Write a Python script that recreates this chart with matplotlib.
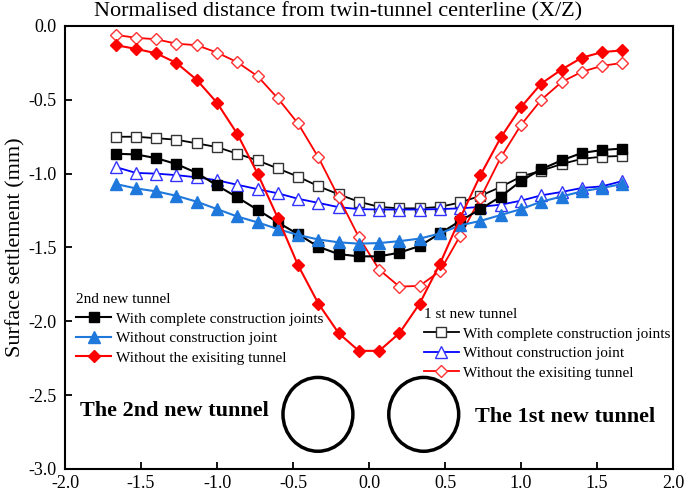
import numpy as np
import matplotlib
matplotlib.use('Agg')
import matplotlib.pyplot as plt
from matplotlib.patches import Ellipse

plt.rcParams['font.family'] = ['Liberation Serif', 'DejaVu Serif']
plt.rcParams['axes.unicode_minus'] = False

# --------------------------------------------------------------------
# normalised distance X/Z
x = [-1.667, -1.533, -1.4, -1.267, -1.133, -1.0, -0.867, -0.733, -0.6, -0.467,
     -0.333, -0.2, -0.067, 0.067, 0.2, 0.333, 0.467, 0.6, 0.733, 0.867,
     1.0, 1.133, 1.267, 1.4, 1.533, 1.667]

# 2nd new tunnel
joints_2nd = [-0.865, -0.87, -0.895, -0.935, -0.995, -1.08, -1.16, -1.245, -1.33, -1.41,
              -1.495, -1.545, -1.56, -1.56, -1.535, -1.49, -1.405, -1.32, -1.24, -1.155,
              -1.05, -0.97, -0.91, -0.86, -0.84, -0.83]
nojoint_2nd = [-1.07, -1.10, -1.12, -1.15, -1.19, -1.24, -1.29, -1.33, -1.375, -1.415,
               -1.446, -1.465, -1.474, -1.47, -1.457, -1.44, -1.405, -1.35, -1.32, -1.28,
               -1.24, -1.19, -1.155, -1.12, -1.097, -1.07]
noexist_2nd = [-0.13, -0.155, -0.185, -0.25, -0.365, -0.52, -0.73, -1.0, -1.30, -1.62,
               -1.88, -2.08, -2.20, -2.20, -2.08, -1.88, -1.61, -1.30, -1.01, -0.755,
               -0.55, -0.39, -0.295, -0.215, -0.177, -0.165]

# 1st new tunnel
joints_1st = [-0.75, -0.75, -0.76, -0.77, -0.795, -0.82, -0.865, -0.91, -0.965, -1.02,
              -1.085, -1.14, -1.19, -1.225, -1.235, -1.235, -1.225, -1.195, -1.15, -1.09,
              -1.02, -0.98, -0.935, -0.90, -0.885, -0.88]
nojoint_1st = [-0.955, -0.995, -1.0, -1.01, -1.025, -1.045, -1.075, -1.105, -1.133, -1.17,
               -1.198, -1.227, -1.24, -1.243, -1.243, -1.243, -1.24, -1.235, -1.225, -1.21,
               -1.183, -1.147, -1.124, -1.097, -1.086, -1.05]
noexist_1st = [-0.06, -0.08, -0.09, -0.12, -0.13, -0.18, -0.245, -0.34, -0.49, -0.66,
               -0.89, -1.16, -1.43, -1.65, -1.765, -1.76, -1.66, -1.42, -1.165, -0.89,
               -0.67, -0.50, -0.38, -0.31, -0.27, -0.25]

labels = ['With complete construction joints', 'Without construction joint',
          'Without the exisiting tunnel']

# --------------------------------------------------------------------
fig = plt.figure(figsize=(6.85, 4.93), dpi=100)
ax = fig.add_axes([0.0949, 0.0487, 0.8876, 0.8986])

blue_fill = '#1f78dc'

# 1st tunnel curves (open markers)
l4, = ax.plot(x, joints_1st, color='black', lw=1.3, marker='s', ms=7,
              mfc='white', mec='#333333', mew=1.0)
l5, = ax.plot(x, nojoint_1st, color='#0000ff', lw=1.3, marker='^', ms=8,
              mfc='white', mec='#3333ff', mew=1.0)
l6, = ax.plot(x, noexist_1st, color='#ff0000', lw=1.3, marker='D', ms=6.5,
              mfc='white', mec='#ff3333', mew=1.0)

# 2nd tunnel curves (filled markers)
l1, = ax.plot(x, joints_2nd, color='black', lw=1.5, marker='s', ms=7,
              mfc='black', mec='black')
l2, = ax.plot(x, nojoint_2nd, color=blue_fill, lw=1.5, marker='^', ms=8,
              mfc=blue_fill, mec=blue_fill)
l3, = ax.plot(x, noexist_2nd, color='#ff0000', lw=1.5, marker='D', ms=6.5,
              mfc='#ff0000', mec='#ff0000')

# tunnels
ax.add_patch(Ellipse((-0.336, -2.63), 0.46, 0.5, fill=False, ec='black', lw=2.5))
ax.add_patch(Ellipse((0.36, -2.63), 0.46, 0.5, fill=False, ec='black', lw=2.5))
ax.text(-1.9, -2.61, 'The 2nd new tunnel', fontsize=16, fontweight='bold', va='center', ha='left')
ax.text(0.70, -2.65, 'The 1st new tunnel', fontsize=16, fontweight='bold', va='center', ha='left')

# --------------------------------------------------------------------
# legends
leg1 = ax.legend([l1, l2, l3], labels, title='2nd new tunnel', loc='upper left',
                 bbox_to_anchor=(0.018, 0.397), frameon=False, fontsize=11,
                 title_fontsize=11, alignment='left', borderpad=0, borderaxespad=0,
                 handlelength=2.3, handletextpad=0.3, labelspacing=0.38)
ax.add_artist(leg1)
ax.legend([l4, l5, l6], labels, title='1 st new tunnel', loc='upper left',
          bbox_to_anchor=(0.59, 0.363), frameon=False, fontsize=11,
          title_fontsize=11, alignment='left', borderpad=0, borderaxespad=0,
          handlelength=2.3, handletextpad=0.3, labelspacing=0.38)

# --------------------------------------------------------------------
# axes
ax.set_xlim(-2.0, 2.0)
ax.set_ylim(-3.0, 0.0)
ax.set_xticks(np.arange(-2.0, 2.01, 0.5))
ax.set_yticks(np.arange(-3.0, 0.01, 0.5))
ax.xaxis.set_major_formatter(matplotlib.ticker.FormatStrFormatter('%.1f'))
ax.yaxis.set_major_formatter(matplotlib.ticker.FormatStrFormatter('%.1f'))
ax.tick_params(direction='in', length=5, width=1.3, labelsize=13, top=False, right=False)
ax.tick_params(axis='x', pad=4)
ax.tick_params(axis='y', pad=6)
for s in ax.spines.values():
    s.set_linewidth(1.5)

# x label sits above the plot
ax.text(0.449, 1.032, 'Normalised distance from twin-tunnel centerline (X/Z)',
        transform=ax.transAxes, fontsize=16, ha='center', va='center')
ax.set_ylabel('Surface settlement (mm)', fontsize=16, labelpad=2)

fig.savefig('out.png', dpi=100)
